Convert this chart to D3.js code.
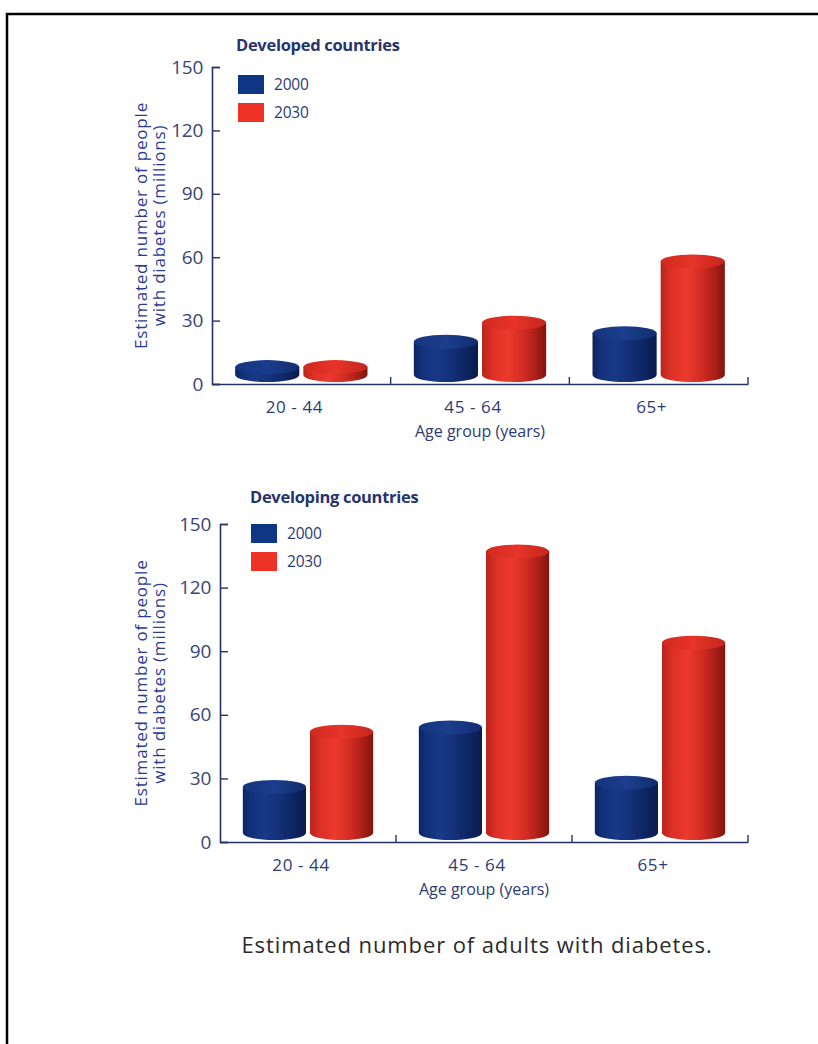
<!DOCTYPE html>
<html>
<head>
<meta charset="utf-8">
<script src="https://cdn.jsdelivr.net/npm/d3@7"></script>
<style>
  html, body { margin: 0; padding: 0; background: #fff; }
  svg { display: block; }
  text { font-family: "Open Sans", "Noto Sans", sans-serif; }
</style>
</head>
<body>
<svg id="chart" width="818" height="1044"></svg>
<script>
// Age groups on the x axis
const ageGroups = ["20 - 44", "45 - 64", "65+"];
// Years compared in each group
const years = ["2000", "2030"];
// Estimated number of people with diabetes (millions)
const developed2000 = [8, 20, 24];
const developed2030 = [8, 29, 58];
const developing2000 = [26, 54, 28];
const developing2030 = [52, 137, 94];
// Y axis ticks
const yTicks = [0, 30, 60, 90, 120, 150];

const svg = d3.select("#chart");

// frame around the figure
svg.append("path")
  .attr("d", "M7,1044 L7,14 L818,14")
  .attr("fill", "none")
  .attr("stroke", "#000")
  .attr("stroke-width", 2.5);

const defs = svg.append("defs");
function cylGradient(id, stops) {
  const g = defs.append("linearGradient").attr("id", id)
    .attr("x1", "0%").attr("x2", "100%").attr("y1", "0%").attr("y2", "0%");
  stops.forEach(([o, c]) => g.append("stop").attr("offset", o).attr("stop-color", c));
}
cylGradient("gBlue", [["0%", "#0b2360"], ["12%", "#13317a"], ["35%", "#183986"], ["55%", "#14317b"], ["80%", "#0d2563"], ["100%", "#091c4c"]]);
cylGradient("gRed", [["0%", "#b8231b"], ["15%", "#dc3026"], ["40%", "#ec3a2d"], ["65%", "#d02b22"], ["85%", "#a81f18"], ["100%", "#7e140f"]]);
cylGradient("gBlueTop", [["0%", "#15347f"], ["50%", "#1b3d8b"], ["100%", "#122d70"]]);
cylGradient("gRedTop", [["0%", "#d2291f"], ["50%", "#e63429"], ["100%", "#c4261d"]]);

const colors = { "2000": { body: "url(#gBlue)", top: "url(#gBlueTop)", legend: "#0f3585" },
                 "2030": { body: "url(#gRed)", top: "url(#gRedTop)", legend: "#ee3326" } };

function drawPanel(cfg) {
  const g = svg.append("g");
  const x = d3.scaleBand().domain(ageGroups).range([cfg.x0, cfg.x1]).paddingInner(0).paddingOuter(0);
  const xs = d3.scaleBand().domain(years).range([0, x.bandwidth()]).paddingInner(0.059).paddingOuter(0.34);
  const y = d3.scaleLinear().domain([0, 150]).range([cfg.y0, cfg.y150]);
  const axisColor = "#26306a";

  // y axis with inward ticks
  const yAxis = g.append("g").attr("transform", `translate(${cfg.x0},0)`)
    .call(d3.axisLeft(y).tickValues(yTicks).tickSize(-8).tickPadding(9).tickFormat(d3.format("d")));
  yAxis.select(".domain").attr("stroke", axisColor).attr("stroke-width", 1.6);
  yAxis.selectAll(".tick line").attr("stroke", axisColor).attr("stroke-width", 1.4);
  yAxis.selectAll(".tick text")
    .attr("fill", "#3a4477").attr("font-size", 19).attr("font-family", "'Open Sans', sans-serif")
    .attr("letter-spacing", -0.3);

  // x axis line and category labels
  const xAxis = g.append("g").attr("transform", `translate(0,${cfg.y0})`)
    .call(d3.axisBottom(x).tickSize(0).tickPadding(17));
  xAxis.select(".domain").attr("stroke", axisColor).attr("stroke-width", 1.6);
  xAxis.selectAll(".tick text")
    .attr("fill", "#2d3a78").attr("font-size", 17).attr("font-family", "'Open Sans', sans-serif")
    .attr("letter-spacing", 0.6)
    .attr("dx", -7);
  // boundary ticks between groups
  g.selectAll(".btick").data(ageGroups).join("line")
    .attr("x1", d => x(d) + x.bandwidth()).attr("x2", d => x(d) + x.bandwidth())
    .attr("y1", cfg.y0).attr("y2", cfg.y0 - 7)
    .attr("stroke", axisColor).attr("stroke-width", 1.4);

  // x axis title
  g.append("text").attr("x", (cfg.x0 + cfg.x1) / 2).attr("y", cfg.y0 + 53)
    .attr("text-anchor", "middle").attr("fill", "#2d3a78").attr("font-size", 16)
    .text("Age group (years)");

  // y axis title (two lines)
  const yt = g.append("text")
    .attr("transform", `translate(${cfg.yTitleX},${(cfg.y0 + cfg.y150) / 2}) rotate(-90)`)
    .attr("text-anchor", "middle").attr("fill", "#2a3c92").attr("font-size", 17)
    .attr("letter-spacing", 0.8)
    .attr("font-family", "'Open Sans', sans-serif");
  yt.append("tspan").attr("x", 0).attr("dy", 0).text("Estimated number of people");
  yt.append("tspan").attr("x", 0).attr("dy", 18).text("with diabetes (millions)");

  // panel title
  g.append("text").attr("x", cfg.titleX).attr("y", cfg.titleY)
    .attr("fill", "#27336e").attr("font-size", 16.5).attr("font-weight", "bold")
    .attr("letter-spacing", -0.3)
    .text(cfg.title);

  // legend
  years.forEach((yr, i) => {
    g.append("rect").attr("x", cfg.legX).attr("y", cfg.legY + i * 28)
      .attr("width", 26).attr("height", 19).attr("fill", colors[yr].legend);
    g.append("text").attr("x", cfg.legX + 36).attr("y", cfg.legY + i * 28 + 15)
      .attr("fill", "#2d3a78").attr("font-size", 15.5).attr("letter-spacing", -0.2).text(yr);
  });

  // cylinders
  const ry = 7;
  const rows = [];
  ageGroups.forEach((a, i) => {
    rows.push({ age: a, year: "2000", v: cfg.s2000[i] });
    rows.push({ age: a, year: "2030", v: cfg.s2030[i] });
  });
  const bars = g.selectAll(".cyl").data(rows).join("g").attr("class", "cyl");
  bars.each(function (d) {
    const el = d3.select(this);
    const left = x(d.age) + xs(d.year);
    const w = xs.bandwidth();
    const rx = w / 2;
    const yTop = y(d.v);
    const yBot = y(0) - ry - 2;
    el.append("path")
      .attr("d", `M${left},${yTop} L${left},${yBot} A${rx},${ry} 0 0 0 ${left + w},${yBot} L${left + w},${yTop} Z`)
      .attr("fill", colors[d.year].body);
    el.append("ellipse")
      .attr("cx", left + rx).attr("cy", yTop).attr("rx", rx).attr("ry", ry)
      .attr("fill", colors[d.year].top);
  });
}

drawPanel({
  title: "Developed countries", titleX: 236, titleY: 51,
  legX: 238, legY: 75,
  x0: 212, x1: 748, y0: 384, y150: 67, yTitleX: 147,
  s2000: developed2000, s2030: developed2030
});
drawPanel({
  title: "Developing countries", titleX: 250, titleY: 503,
  legX: 251, legY: 524,
  x0: 220, x1: 748, y0: 842, y150: 524, yTitleX: 147,
  s2000: developing2000, s2030: developing2030
});

// figure caption
svg.append("text").attr("x", 477).attr("y", 953)
  .attr("text-anchor", "middle").attr("fill", "#2b2b2b").attr("font-size", 22)
  .attr("letter-spacing", 0.9)
  .attr("font-family", "'Open Sans', sans-serif")
  .text("Estimated number of adults with diabetes.");
</script>
</body>
</html>
